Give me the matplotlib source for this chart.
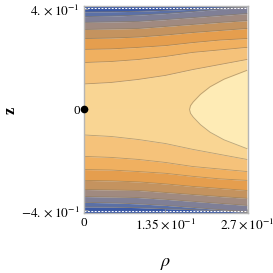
import matplotlib.pyplot as plt
import numpy as np

plt.rcParams['mathtext.fontset'] = 'stix'
plt.rcParams['font.family'] = 'Liberation Serif'

# rho columns where the contour heights were read
rho = np.array([0.0, 0.045, 0.09, 0.135, 0.18, 0.225, 0.27])

# height |z| of each contour line at those columns (inner -> outer)
line1 = [0.101, 0.107, 0.119, 0.135, 0.158, 0.178, 0.198]
line2 = [0.186, 0.190, 0.198, 0.210, 0.226, 0.236, 0.246]
line3 = [0.238, 0.240, 0.246, 0.253, 0.265, 0.275, 0.281]
line4 = [0.281, 0.283, 0.287, 0.295, 0.305, 0.313, 0.321]
line5 = [0.317, 0.319, 0.321, 0.329, 0.337, 0.345, 0.352]
line6 = [0.345, 0.347, 0.349, 0.356, 0.364, 0.372, 0.380]
line7 = [0.368, 0.370, 0.374, 0.380, 0.388, 0.397, 0.406]
line8 = [0.386, 0.387, 0.389, 0.393, 0.397, 0.402, 0.408]

# the innermost (lightest) region boundary, as rho at given z
inner_z = [0.0, 0.015, 0.03, 0.06, 0.09, 0.12, 0.155]
inner_rho = [0.175, 0.1765, 0.181, 0.193, 0.209, 0.232, 0.27]

band_colors = ['#f9d593', '#f5c27a', '#f0b060', '#e59e4e', '#c4935f',
               '#a08a80', '#7f7f96', '#5b70a6', '#3c5aa6']
light_color = '#feebb5'

x_ticks = [0, 0.135, 0.27]
x_labels = ['0', r'$1.35\times10^{-1}$', r'$2.7\times10^{-1}$']
y_ticks = [-0.4, 0, 0.4]
y_labels = [r'$-4.\times10^{-1}$', '0', r'$4.\times10^{-1}$']

fig = plt.figure(figsize=(2.73, 2.73), dpi=100)
ax = fig.add_axes([0.3077, 0.22, 0.601, 0.758])

lines = [np.array(l) for l in [line1, line2, line3, line4, line5,
                               line6, line7, line8]]
top = 0.45
bounds = [np.zeros_like(rho)] + lines + [np.full_like(rho, top)]
for i, c in enumerate(band_colors):
    lo, hi = bounds[i], bounds[i + 1]
    ax.fill_between(rho, lo, hi, color=c, lw=0)
    ax.fill_between(rho, -hi, -lo, color=c, lw=0)

iz = np.array(inner_z)
ir = np.array(inner_rho)
zz = np.concatenate([-iz[::-1], iz[1:]])
rr = np.concatenate([ir[::-1], ir[1:]])
ax.fill_betweenx(zz, rr, 0.3, color=light_color, lw=0)

lc = dict(color='#8c7a5a', lw=0.6, alpha=0.6)
for l in lines:
    ax.plot(rho, l, **lc)
    ax.plot(rho, -l, **lc)
ax.plot(rr, zz, **lc)

ax.axhline(0.404, color='white', lw=0.7, ls=(0, (2, 1.5)))
ax.axhline(-0.404, color='white', lw=0.7, ls=(0, (2, 1.5)))

ax.plot([0], [0], 'o', color='black', ms=4.5, clip_on=False, zorder=5)

ax.set_xlim(0, 0.272)
ax.set_ylim(-0.41, 0.41)
ax.set_xticks(x_ticks)
ax.set_xticklabels(x_labels)
ax.set_yticks(y_ticks)
ax.set_yticklabels(y_labels)
ax.tick_params(direction='in', length=3, width=0.6, color='#999999',
               labelsize=9.5, pad=3)
for s in ax.spines.values():
    s.set_color('#b5b5b5')
    s.set_linewidth(1.0)

ax.set_xlabel(r'$\rho$', fontsize=13, labelpad=17)
fig.text(11 / 273, 1 - 110 / 273, 'z', fontsize=12, fontweight='bold',
         rotation=90, ha='center', va='center')

plt.savefig('out.png', dpi=100)
